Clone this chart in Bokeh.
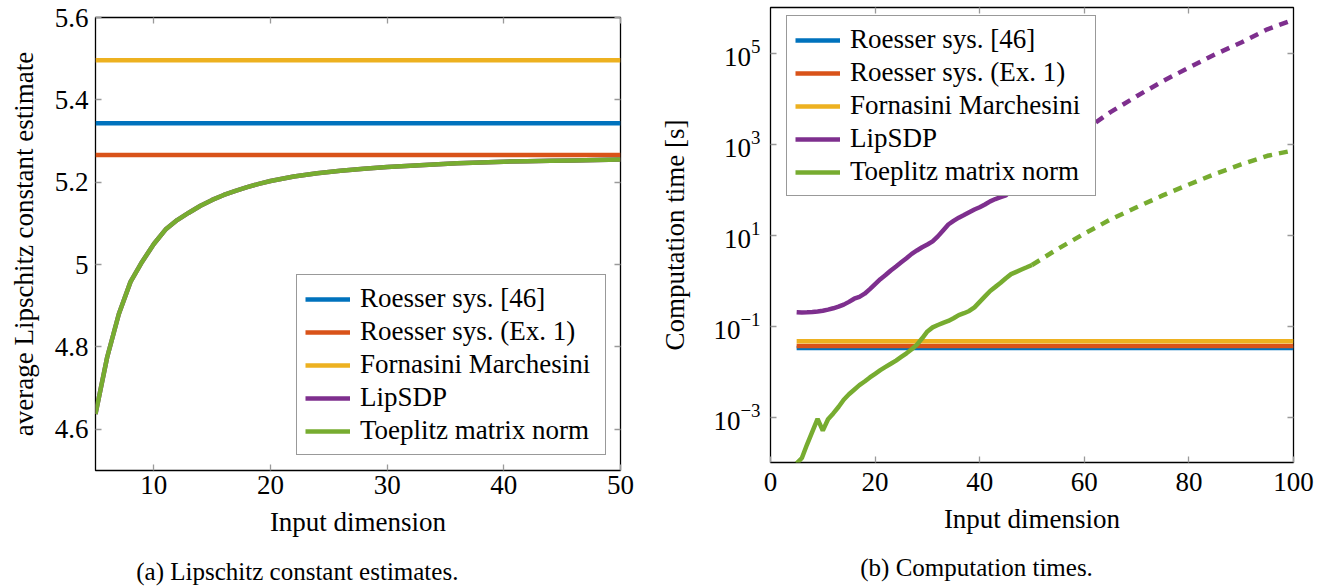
from bokeh.plotting import figure
from bokeh.models import Legend, LegendItem, FixedTicker, LinearAxis, LogAxis, Range1d
from bokeh.layouts import row, column
from bokeh.core.properties import value
from bokeh.embed import file_html
from bokeh.resources import INLINE

# ---------------- data: (a) Lipschitz constant estimates ----------------
n_est = [5, 6, 7, 8, 9, 10, 11, 12, 13, 14, 15, 16, 17, 18, 19, 20, 22, 24, 26, 28,
         30, 32, 34, 36, 38, 40, 42, 44, 46, 48, 50]
toeplitz_est = [4.637, 4.775, 4.88, 4.958, 5.007, 5.05, 5.085, 5.108, 5.126, 5.143,
                5.157, 5.169, 5.179, 5.188, 5.196, 5.203, 5.214, 5.222, 5.228, 5.233,
                5.237, 5.240, 5.243, 5.246, 5.248, 5.250, 5.251, 5.252, 5.253, 5.254, 5.255]
lipsdp_est = [4.637, 4.775, 4.88, 4.958, 5.007, 5.05, 5.085, 5.108, 5.126, 5.143,
              5.157, 5.169, 5.179, 5.188, 5.196, 5.203, 5.214, 5.222, 5.228, 5.233,
              5.237, 5.240, 5.243, 5.246, 5.248, 5.250, 5.251, 5.252, 5.253, 5.254, 5.255]
n_est_span = [5, 50]
roesser46_est = [5.343, 5.343]
roesser_ex1_est = [5.266, 5.266]
fm_est = [5.496, 5.496]

# ---------------- data: (b) computation times ----------------
n_time = list(range(5, 51))
lipsdp_time = [0.20, 0.197, 0.20, 0.204, 0.209, 0.216, 0.229, 0.245, 0.266, 0.295,
               0.339, 0.398, 0.437, 0.513, 0.646, 0.832, 1.07, 1.32, 1.66, 2.04,
               2.51, 3.09, 3.85, 4.57, 5.37, 6.17, 7.24, 9.33, 12.6, 17.0,
               20.4, 24.0, 27.5, 31.6, 36.3, 40.7, 46.8, 55.0, 61.7, 67.6,
               74.1, 95.5, 120.0, 151.0, 191.0, 263.0]
toeplitz_time = [9.55e-5, 1.26e-4, 2.51e-4, 4.79e-4, 9.12e-4, 5.01e-4, 8.91e-4, 1.20e-3,
                 1.66e-3, 2.40e-3, 3.16e-3, 3.98e-3, 5.01e-3, 6.03e-3, 7.41e-3, 8.91e-3,
                 1.07e-2, 1.26e-2, 1.48e-2, 1.74e-2, 2.09e-2, 2.51e-2, 3.09e-2, 3.89e-2,
                 5.37e-2, 7.59e-2, 9.33e-2, 0.105, 0.117, 0.129, 0.148, 0.174, 0.191,
                 0.214, 0.257, 0.339, 0.447, 0.589, 0.724, 0.891, 1.12, 1.38, 1.55,
                 1.74, 1.95, 2.19]
n_extrap = [50, 55, 60, 65, 70, 75, 80, 85, 90, 95, 100]
lipsdp_extrap = [263.0, 759.0, 1995.0, 5012.0, 11220.0, 23990.0, 47860.0, 93330.0,
                 169800.0, 331000.0, 537000.0]
toeplitz_extrap = [2.19, 5.01, 10.7, 21.9, 40.7, 74.1, 129.0, 219.0, 355.0, 550.0, 724.0]
n_time_span = [5, 100]
roesser46_time = [0.0328, 0.0328]
roesser_ex1_time = [0.0363, 0.0363]
fm_time = [0.0461, 0.0461]

labels = ["Roesser sys. [46]", "Roesser sys. (Ex. 1)", "Fornasini Marchesini",
          "LipSDP", "Toeplitz matrix norm"]
colors = ["#0072BD", "#D95319", "#EDB120", "#7E2F8E", "#77AC30"]
captions = ["(a) Lipschitz constant estimates.", "(b) Computation times."]

FONT = "Liberation Serif"
FS = "27px"
LW = 4.5
TICK_C = "#9a9a9a"


def style(p):
    p.outline_line_color = "black"
    p.outline_line_width = 1.3
    p.xgrid.grid_line_color = None
    p.ygrid.grid_line_color = None
    p.background_fill_color = "white"
    p.border_fill_color = "white"
    for ax in p.axis:
        ax.axis_line_color = None
        ax.major_tick_in = 6
        ax.major_tick_out = 0
        ax.minor_tick_line_color = None
        ax.major_tick_line_color = TICK_C
        ax.major_tick_line_width = 1.3
        ax.major_label_text_font = FONT
        ax.major_label_text_font_size = FS
        ax.major_label_text_color = "black"
        ax.axis_label_text_font = FONT
        ax.axis_label_text_font_size = FS
        ax.axis_label_text_font_style = "normal"
        ax.axis_label_text_color = "black"


def mirror(p, xticks, yticks, log_y=False):
    top = LinearAxis(ticker=FixedTicker(ticks=xticks))
    yax = LogAxis if log_y else LinearAxis
    right = yax(ticker=FixedTicker(ticks=yticks))
    for ax in (top, right):
        ax.axis_line_color = None
        ax.major_tick_in = 6
        ax.major_tick_out = 0
        ax.minor_tick_line_color = None
        ax.major_tick_line_color = TICK_C
        ax.major_tick_line_width = 1.3
        ax.major_label_text_font_size = "1px"
        ax.major_label_text_color = None
        ax.major_label_standoff = 0
    p.add_layout(top, "above")
    p.add_layout(right, "right")


def make_legend(p, rends, loc):
    items = [LegendItem(label=l, renderers=[r]) for l, r in zip(labels, rends)]
    lg = Legend(items=items, location=loc)
    lg.label_text_font = FONT
    lg.label_text_font_size = FS
    lg.label_text_color = "black"
    lg.border_line_color = "#333333"
    lg.border_line_width = 1.2
    lg.background_fill_alpha = 1.0
    lg.glyph_width = 45
    lg.glyph_height = 30
    lg.label_height = 30
    lg.label_width = 237
    lg.label_standoff = 10
    lg.padding = 8
    lg.spacing = 2
    lg.margin = 0
    p.add_layout(lg, "center")


def caption_strip(width, height, xr, bl, br, cx, cy, text):
    c = figure(width=width, height=height, output_backend="svg", toolbar_location=None,
               x_range=xr, y_range=Range1d(0, height),
               min_border_left=bl, min_border_right=br, min_border_top=0, min_border_bottom=0)
    c.axis.visible = False
    c.xgrid.grid_line_color = None
    c.ygrid.grid_line_color = None
    c.outline_line_color = None
    c.text(x=[cx], y=[cy], text=[text], text_align="center", text_baseline="middle",
           text_font=value(FONT), text_font_size="25px", text_color="black")
    return c


# ---------------- figure (a) ----------------
p1 = figure(width=640, height=555, output_backend="svg", toolbar_location=None,
            x_range=Range1d(5, 50), y_range=Range1d(4.5, 5.6),
            min_border_left=95, min_border_right=20, min_border_top=17, min_border_bottom=85)
p1.xaxis.ticker = FixedTicker(ticks=[10, 20, 30, 40, 50])
p1.yaxis.ticker = FixedTicker(ticks=[4.6, 4.8, 5.0, 5.2, 5.4, 5.6])
p1.yaxis.major_label_overrides = {"4.6": "4.6", "4.8": "4.8", "5": "5", "5.2": "5.2",
                                  "5.4": "5.4", "5.6": "5.6"}
p1.xaxis.axis_label = "Input dimension"
p1.yaxis.axis_label = "average Lipschitz constant estimate"
style(p1)
mirror(p1, [10, 20, 30, 40, 50], [4.6, 4.8, 5.0, 5.2, 5.4, 5.6])

r1 = [
    p1.line(n_est_span, roesser46_est, line_color=colors[0], line_width=LW),
    p1.line(n_est_span, roesser_ex1_est, line_color=colors[1], line_width=LW),
    p1.line(n_est_span, fm_est, line_color=colors[2], line_width=LW),
    p1.line(n_est, lipsdp_est, line_color=colors[3], line_width=LW),
    p1.line(n_est, toeplitz_est, line_color=colors[4], line_width=LW),
]
p1.left[0].major_label_standoff = 7
p1.left[0].axis_label_standoff = 13
p1.below[0].major_label_standoff = 5
p1.below[0].axis_label_standoff = 10
make_legend(p1, r1, (201, 15))
cap1 = caption_strip(640, 32, Range1d(5, 50), 95, 20, 22.3, 16, captions[0])

# ---------------- figure (b) ----------------
p2 = figure(width=680, height=545, output_backend="svg", toolbar_location=None,
            x_range=Range1d(0, 100), y_range=Range1d(1e-4, 1e6), y_axis_type="log",
            min_border_left=130, min_border_right=27, min_border_top=7, min_border_bottom=83)
p2.xaxis.ticker = FixedTicker(ticks=[0, 20, 40, 60, 80, 100])
p2.yaxis.ticker = FixedTicker(ticks=[1e-3, 1e-1, 1e1, 1e3, 1e5])
p2.xaxis.axis_label = "Input dimension"
p2.yaxis.axis_label = "Computation time [s]"
style(p2)
mirror(p2, [20, 40, 60, 80], [1e-3, 1e-1, 1e1, 1e3, 1e5], log_y=True)

r2 = [
    p2.line(n_time_span, roesser46_time, line_color=colors[0], line_width=LW),
    p2.line(n_time_span, roesser_ex1_time, line_color=colors[1], line_width=LW),
    p2.line(n_time_span, fm_time, line_color=colors[2], line_width=LW),
    p2.line(n_time, lipsdp_time, line_color=colors[3], line_width=LW),
    p2.line(n_time, toeplitz_time, line_color=colors[4], line_width=LW),
]
p2.line(n_extrap, lipsdp_extrap, line_color=colors[3], line_width=LW, line_dash="9 7")
p2.line(n_extrap, toeplitz_extrap, line_color=colors[4], line_width=LW, line_dash="9 7")
p2.left[0].major_label_standoff = 10
p2.left[0].axis_label_standoff = 20
p2.below[0].major_label_standoff = 10
p2.below[0].axis_label_standoff = 10
make_legend(p2, r2, (16, 266))
cap2 = caption_strip(680, 42, Range1d(0, 100), 130, 27, 39.4, 20, captions[1])

layout = row(column(p1, cap1), column(p2, cap2))
open("out.html", "w").write(file_html(layout, INLINE))
